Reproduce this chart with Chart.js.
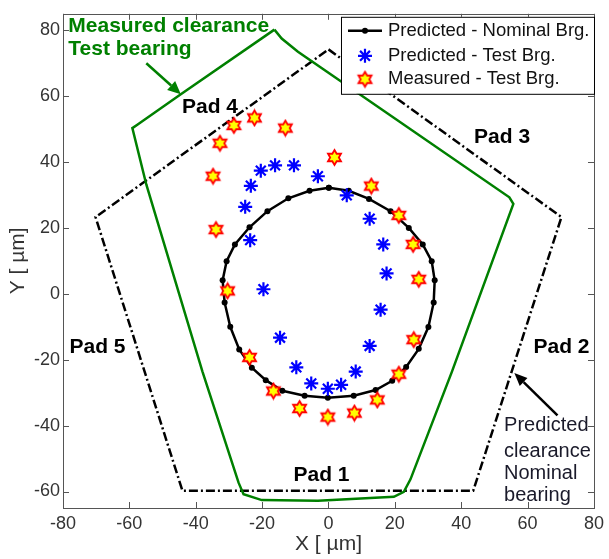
<!DOCTYPE html>
<html>
<head>
<meta charset="utf-8">
<script src="https://cdn.jsdelivr.net/npm/chart.js@4.4.1/dist/chart.umd.min.js"></script>
<style>
  html, body { margin: 0; padding: 0; background: #fff; }
</style>
</head>
<body>
<canvas id="c" width="609" height="559"></canvas>
<script>
// tick labels
const xTicks = [-80, -60, -40, -20, 0, 20, 40, 60, 80];
const yTicks = [-60, -40, -20, 0, 20, 40, 60, 80];

// Predicted - Nominal Brg. (closed orbit)
const nomX = [0.1, 6.1, 12.2, 18.7, 24.2, 28.4, 31.1, 32.0, 31.7, 30.1, 27.2, 23.4, 19.2, 14.2, 7.6, -0.2,
  -7.2, -13.9, -18.9, -23.1, -26.9, -29.6, -31.3, -31.9, -30.7, -28.2, -23.8, -18.4, -12.1, -5.7, 0.1];
const nomY = [32.2, 31.3, 28.8, 25.1, 20.0, 15.0, 9.9, 4.1, -2.6, -10.1, -16.7, -22.2, -26.4, -29.2, -30.9, -31.5,
  -30.9, -29.4, -26.2, -22.4, -16.9, -10.0, -2.6, 4.1, 9.9, 15.0, 20.2, 25.1, 29.0, 31.3, 32.2];

// Predicted - Test Brg.
const testX = [-25.1, -23.4, -20.4, -16.1, -10.4, -3.2, 5.5, 12.4, 16.5, 17.5, 15.7, 12.4, 8.2, 3.8, -0.2, -5.2, -9.7, -14.6, -19.6, -23.6];
const testY = [26.4, 32.8, 37.4, 39.0, 39.0, 35.7, 29.9, 22.8, 15.0, 6.2, -4.8, -15.8, -23.6, -27.6, -28.8, -27.2, -22.3, -13.3, 1.4, 16.3];

// Measured - Test Brg.
const measX = [-34.8, -32.7, -28.5, -22.3, -13.0, 1.8, 12.9, 21.2, 25.5, 27.2, 25.7, 21.2, 14.7, 7.8, -0.2, -8.7, -16.6, -23.8, -30.4, -33.9];
const measY = [35.7, 45.7, 51.1, 53.4, 50.3, 41.4, 32.7, 23.8, 15.0, 4.4, -13.9, -24.4, -32.2, -36.2, -37.4, -34.8, -29.5, -19.3, 0.9, 19.5];

// Predicted clearance, nominal bearing (pentagon)
const clrNomX = [0, 70.2, 43.6, -44.0, -70.2, 0];
const clrNomY = [74.2, 23.3, -59.8, -59.8, 23.3, 74.2];

// Measured clearance, test bearing
const clrMeasX = [-16.3, -14.1, -9.2, 54.5, 55.7, 37.2, 24.7, 22.7, 19.7, -3.2, -20.1, -25.6, -27.1, -38.0, -54.9, -59.1, -57.5, -44.5, -16.3];
const clrMeasY = [80.2, 77.5, 73.5, 29.3, 27.3, -23.6, -56.3, -60.1, -61.6, -62.8, -62.6, -60.8, -57.3, -23.5, 33.2, 50.3, 51.4, 60.6, 80.2];

const FONT = "'Liberation Sans', Arial, Helvetica, sans-serif";
const pts = (xs, ys) => xs.map((v, i) => ({ x: v, y: ys[i] }));

// hexagram marker (yellow with red edge)
function hexagram(R, fill, stroke) {
  const s = Math.ceil(R * 2 + 4);
  const cv = document.createElement('canvas');
  cv.width = s; cv.height = s;
  const g = cv.getContext('2d');
  const r = R / Math.sqrt(3);
  g.beginPath();
  for (let i = 0; i < 12; i++) {
    const ang = -Math.PI / 2 + i * Math.PI / 6;
    const rr = i % 2 === 0 ? R : r;
    const px = s / 2 + rr * Math.cos(ang), py = s / 2 + rr * Math.sin(ang);
    if (i === 0) g.moveTo(px, py); else g.lineTo(px, py);
  }
  g.closePath();
  g.fillStyle = fill;
  g.fill();
  g.lineWidth = 1.8;
  g.strokeStyle = stroke;
  g.stroke();
  return cv;
}
const hexImg = hexagram(7.5, '#ffff00', '#ff0000');

function arrow(ctx, x1, y1, x2, y2, color, w, len, half) {
  const ang = Math.atan2(y2 - y1, x2 - x1);
  const bx = x2 - len * Math.cos(ang), by = y2 - len * Math.sin(ang);
  ctx.strokeStyle = color;
  ctx.fillStyle = color;
  ctx.lineWidth = w;
  ctx.beginPath();
  ctx.moveTo(x1, y1);
  ctx.lineTo(bx, by);
  ctx.stroke();
  ctx.beginPath();
  ctx.moveTo(x2, y2);
  ctx.lineTo(bx + half * Math.sin(ang), by - half * Math.cos(ang));
  ctx.lineTo(bx - half * Math.sin(ang), by + half * Math.cos(ang));
  ctx.closePath();
  ctx.fill();
}

const extras = {
  id: 'extras',
  afterDatasetsDraw(chart) {
    const { ctx, chartArea: a, scales: { x, y } } = chart;
    const px = v => x.getPixelForValue(v), py = v => y.getPixelForValue(v);
    ctx.save();

    // axes box with inward ticks
    ctx.strokeStyle = '#555';
    ctx.lineWidth = 1;
    ctx.strokeRect(Math.round(a.left) + 0.5, Math.round(a.top) + 0.5, Math.round(a.right - a.left), Math.round(a.bottom - a.top));
    ctx.beginPath();
    xTicks.forEach(v => {
      const p = Math.round(px(v)) + 0.5;
      ctx.moveTo(p, a.bottom); ctx.lineTo(p, a.bottom - 6);
      ctx.moveTo(p, a.top); ctx.lineTo(p, a.top + 6);
    });
    yTicks.forEach(v => {
      const p = Math.round(py(v)) + 0.5;
      ctx.moveTo(a.left, p); ctx.lineTo(a.left + 6, p);
      ctx.moveTo(a.right, p); ctx.lineTo(a.right - 6, p);
    });
    ctx.stroke();

    // pad labels
    ctx.fillStyle = '#000';
    ctx.font = 'bold 21px ' + FONT;
    ctx.textAlign = 'center';
    ctx.textBaseline = 'middle';
    [['Pad 1', -2.1, -55.1], ['Pad 2', 70.2, -16.3], ['Pad 3', 52.3, 47.6], ['Pad 4', -35.7, 56.8], ['Pad 5', -69.6, -16.1]]
      .forEach(([t, vx, vy]) => ctx.fillText(t, px(vx), py(vy)));

    // measured clearance note
    ctx.fillStyle = '#008000';
    ctx.font = 'bold 21px ' + FONT;
    ctx.textAlign = 'left';
    ctx.fillText('Measured clearance', px(-78.4), py(81.3));
    ctx.fillText('Test bearing', px(-78.4), py(74.3));
    arrow(ctx, px(-54.9), py(70.0), px(-44.5), py(60.6), '#008000', 2.5, 13, 6);

    // predicted clearance note
    ctx.fillStyle = '#1a1a2a';
    ctx.font = '20px ' + FONT;
    ['Predicted', 'clearance', 'Nominal', 'bearing'].forEach((t, i) => {
      ctx.fillText(t, px(52.9), py([-39.9, -47.7, -54.4, -61.3][i]));
    });
    arrow(ctx, px(69), py(-36.9), px(56), py(-24), '#000', 2.5, 13, 5.5);

    // legend
    const lw = 253, lh = 77, lx = a.right - lw, ly = a.top + 3;
    ctx.fillStyle = '#fff';
    ctx.fillRect(lx, ly, lw, lh);
    ctx.strokeStyle = '#000';
    ctx.lineWidth = 1;
    ctx.strokeRect(lx + 0.5, ly + 0.5, lw, lh);
    const rows = [ly + 14, ly + 39, ly + 62.5];
    const mx = lx + 24;
    ctx.strokeStyle = '#000';
    ctx.lineWidth = 2.5;
    ctx.beginPath();
    ctx.moveTo(lx + 7, rows[0]); ctx.lineTo(lx + 41, rows[0]);
    ctx.stroke();
    ctx.fillStyle = '#000';
    ctx.beginPath(); ctx.arc(mx, rows[0], 3, 0, Math.PI * 2); ctx.fill();
    ctx.strokeStyle = '#0000ff';
    ctx.lineWidth = 2.2;
    ctx.beginPath();
    for (let k = 0; k < 4; k++) {
      const an = k * Math.PI / 4;
      ctx.moveTo(mx - 7 * Math.cos(an), rows[1] - 7 * Math.sin(an));
      ctx.lineTo(mx + 7 * Math.cos(an), rows[1] + 7 * Math.sin(an));
    }
    ctx.stroke();
    ctx.drawImage(hexImg, mx - hexImg.width / 2, rows[2] - hexImg.height / 2);
    ctx.fillStyle = '#111';
    ctx.font = '18.5px ' + FONT;
    ['Predicted - Nominal Brg.', 'Predicted - Test Brg.', 'Measured - Test Brg.']
      .forEach((t, i) => ctx.fillText(t, lx + 47, rows[i]));

    ctx.restore();
  }
};

new Chart(document.getElementById('c'), {
  type: 'scatter',
  data: {
    datasets: [
      {
        label: 'Measured - Test Brg.',
        data: pts(measX, measY),
        pointStyle: hexImg,
        order: 0
      },
      {
        label: 'Predicted - Test Brg.',
        data: pts(testX, testY),
        pointStyle: 'star',
        pointRadius: 7,
        pointBorderWidth: 2.2,
        pointBorderColor: '#0000ff',
        pointBackgroundColor: '#0000ff',
        order: 1
      },
      {
        label: 'Predicted - Nominal Brg.',
        data: pts(nomX, nomY),
        showLine: true,
        borderColor: '#000',
        borderWidth: 2.5,
        pointRadius: 3,
        pointBackgroundColor: '#000',
        pointBorderColor: '#000',
        pointBorderWidth: 0,
        order: 2
      },
      {
        label: 'Measured clearance',
        data: pts(clrMeasX, clrMeasY),
        showLine: true,
        borderColor: '#008000',
        borderWidth: 2.5,
        pointRadius: 0,
        order: 3
      },
      {
        label: 'Predicted clearance',
        data: pts(clrNomX, clrNomY),
        showLine: true,
        borderColor: '#000',
        borderWidth: 2.5,
        borderDash: [9, 3, 2, 3],
        pointRadius: 0,
        order: 4
      }
    ]
  },
  options: {
    responsive: false,
    animation: false,
    devicePixelRatio: 1,
    layout: { padding: { top: 6, right: 11, left: 0, bottom: 0 } },
    plugins: { legend: { display: false }, tooltip: { enabled: false } },
    scales: {
      x: {
        type: 'linear',
        min: -80, max: 80,
        afterBuildTicks: s => { s.ticks = xTicks.map(v => ({ value: v })); },
        afterFit: s => { s.height = 51; },
        grid: { display: false, drawTicks: false },
        border: { display: false },
        ticks: { color: '#333', padding: 5, font: { family: FONT, size: 18 } },
        title: { display: true, text: 'X [ µm]', color: '#333', padding: { top: 0, bottom: 2 }, font: { family: FONT, size: 21 } }
      },
      y: {
        type: 'linear',
        min: -65, max: 85,
        afterBuildTicks: s => { s.ticks = yTicks.map(v => ({ value: v })); },
        afterFit: s => { s.width = 63; },
        grid: { display: false, drawTicks: false },
        border: { display: false },
        ticks: { color: '#333', padding: 3, font: { family: FONT, size: 18 } },
        title: { display: true, text: 'Y [ µm]', color: '#333', padding: { top: 6, bottom: 0 }, font: { family: FONT, size: 21 } }
      }
    }
  },
  plugins: [extras]
});
</script>
</body>
</html>
